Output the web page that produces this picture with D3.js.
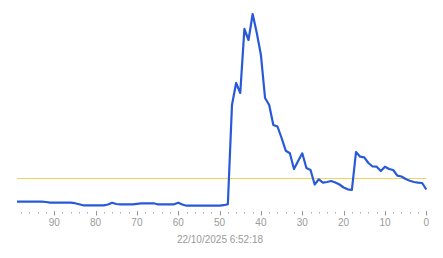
<!DOCTYPE html>
<html>
<head>
<meta charset="utf-8">
<script src="https://cdn.jsdelivr.net/npm/d3@7"></script>
<style>
  body { margin: 0; background: #fff; }
  svg { display: block; }
</style>
</head>
<body>
<div class="history_chart"></div>
<script>
  // seconds ago, newest sample on the right
  var ago = [0,1,2,3,4,5,6,7,8,9,10,11,12,13,14,15,16,17,18,19,
    20,21,22,23,24,25,26,27,28,29,30,31,32,33,34,35,36,37,38,39,
    40,41,42,43,44,45,46,47,48,49,50,51,52,53,54,55,56,57,58,59,
    60,61,62,63,64,65,66,67,68,69,70,71,72,73,74,75,76,77,78,79,
    80,81,82,83,84,85,86,87,88,89,90,91,92,93,94,95,96,97,98,99]

  var values = [17.5,24,24.3,25,26.3,28,30.5,31.3,37,38,40.3,36,40.3,40.5,44,49.7,50.3,55,17,17.7,
    19.5,22.5,24.5,26,25,24.3,27.7,22.5,37,39,53.7,46,38,53.7,56.3,69,80.5,82,102,109,
    152,174,193,167,178,114,124,102,2.7,1.8,1.3,1.3,1.3,1.3,1.3,1.3,1.3,1.3,1.3,2.5,
    4.3,2.7,2.7,2.7,2.7,2.7,3.7,3.7,3.7,3.7,3.2,2.7,2.7,2.7,2.7,3,4.3,2.5,1.7,1.7,
    1.7,1.7,1.7,1.7,2.8,3.8,4.3,4.3,4.3,4.3,4.3,4.3,5,5.3,5.3,5.3,5.3,5.3,5.3,5.3]

  var majorTicks = [90,80,70,60,50,40,30,20,10,0]
  var minorTicks = [98,96,94,92,88,86,84,82,78,76,74,72,68,66,64,62,58,56,54,52,
    48,46,44,42,38,36,34,32,28,26,24,22,18,16,14,12,8,6,4,2]

  var threshold = 28.5
  var stamp = "22/10/2025 6:52:18"

  var width = 443, height = 258

  var svg = d3.select(".history_chart").append("svg")
    .attr("width", width)
    .attr("height", height)

  var x = d3.scaleLinear().domain([99, 0]).range([17, 426.3]),
    y = d3.scaleLinear().domain([0, 200]).range([207, 7])

  var data = ago.map(function (a, i) { return {ago: a, value: values[i]} })

  // threshold
  svg.append("line")
    .attr("x1", x(99)).attr("x2", x(0))
    .attr("y1", y(threshold)).attr("y2", y(threshold))
    .style("stroke", "#f2d35e")
    .style("stroke-width", 1.2)

  var line = d3.line()
    .x(function (d) { return x(d.ago) })
    .y(function (d) { return y(d.value) })

  svg.append("path")
    .datum(data)
    .attr("d", line)
    .style("fill", "none")
    .style("stroke", "#285ad8")
    .style("stroke-width", 2.2)
    .style("stroke-linejoin", "round")

  // axis
  var axis = svg.append("g").attr("class", "axis")

  axis.selectAll(".minor")
    .data(minorTicks)
    .enter().append("rect")
      .attr("class", "minor")
      .attr("x", function (d) { return Math.round(x(d)) })
      .attr("y", 212)
      .attr("width", 1)
      .attr("height", 1.5)
      .style("fill", "#aaa")

  axis.selectAll(".major")
    .data(majorTicks)
    .enter().append("line")
      .attr("class", "major")
      .attr("x1", function (d) { return Math.round(x(d)) + 0.5 })
      .attr("x2", function (d) { return Math.round(x(d)) + 0.5 })
      .attr("y1", 211)
      .attr("y2", 215.5)
      .style("stroke", "#999")

  axis.selectAll(".label")
    .data(majorTicks)
    .enter().append("text")
      .attr("class", "label")
      .attr("x", function (d) { return x(d) })
      .attr("y", 226)
      .attr("text-anchor", "middle")
      .style("font", "10px 'Liberation Sans', Arial, sans-serif")
      .style("fill", "#9a9a9a")
      .text(function (d) { return d })

  svg.append("text")
    .attr("x", 220)
    .attr("y", 243)
    .attr("text-anchor", "middle")
    .style("font", "10px 'Liberation Sans', Arial, sans-serif")
    .style("fill", "#9a9a9a")
    .text(stamp)
</script>
</body>
</html>
